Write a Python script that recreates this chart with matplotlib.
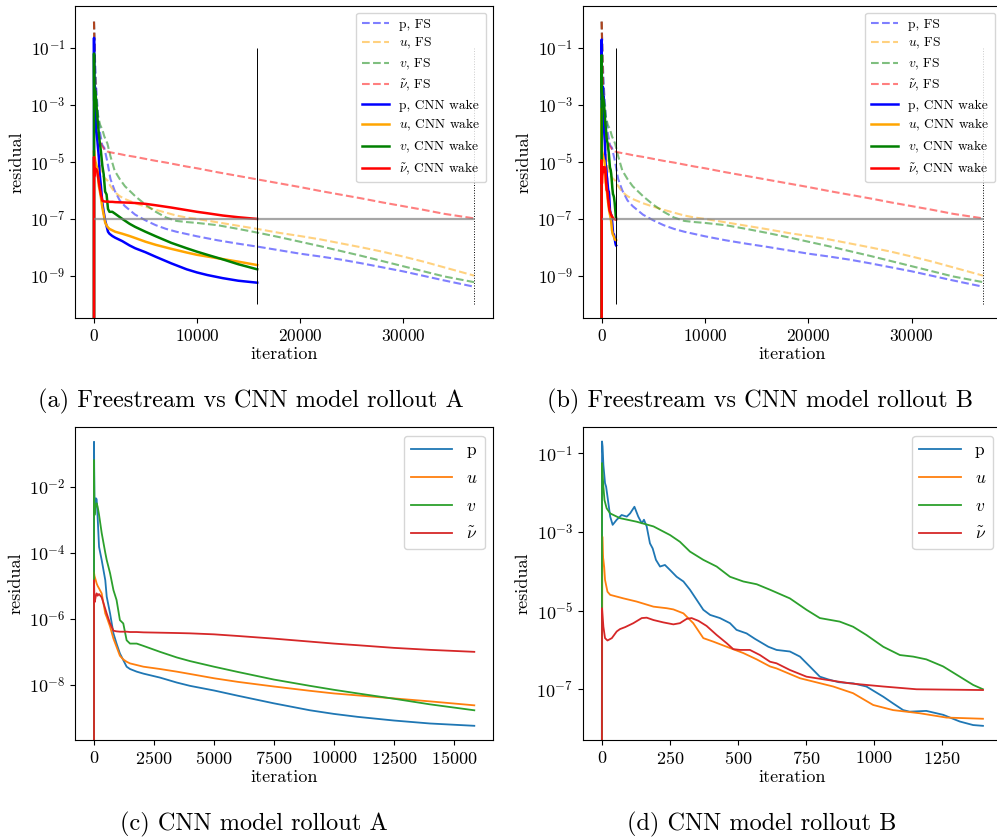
import numpy as np
import matplotlib
matplotlib.use("Agg")
import matplotlib.pyplot as plt
from matplotlib.ticker import FixedLocator, FuncFormatter, MultipleLocator, NullLocator

plt.rcParams['font.family'] = 'serif'
plt.rcParams['font.serif'] = ['cmr10']
plt.rcParams['mathtext.fontset'] = 'cm'
plt.rcParams['axes.formatter.use_mathtext'] = True
plt.rcParams['axes.unicode_minus'] = False

# ---------------- data (log10 of residual) ----------------
# Freestream (FS) run
fs_it = [0, 100, 200, 400, 600, 800, 1000, 1300, 1600, 2000, 2500, 3000, 4000, 5000, 6000,
         7000, 8000, 9000, 10000, 12000, 14000, 16000, 18000, 20000, 22000, 24000, 26000,
         28000, 30000, 32000, 34000, 36900]
fs_p = [-0.07, -1.4, -2.3, -3.4, -4.0, -4.4, -4.5, -5.0, -5.6, -6.0, -6.35, -6.55, -6.85, -7.05,
        -7.22, -7.35, -7.45, -7.53, -7.61, -7.75, -7.87, -7.98, -8.1, -8.22, -8.32, -8.43,
        -8.56, -8.7, -8.84, -9.0, -9.16, -9.38]
fs_u = [-0.07, -2.0, -3.3, -4.6, -5.2, -5.45, -5.55, -5.65, -5.85, -6.05, -6.2, -6.3, -6.45,
        -6.57, -6.68, -6.78, -6.88, -6.95, -7.0, -7.12, -7.24, -7.36, -7.49, -7.6, -7.72,
        -7.86, -8.0, -8.15, -8.32, -8.5, -8.7, -8.99]
fs_v = [-0.07, -1.8, -2.7, -3.4, -3.7, -3.85, -4.1, -4.35, -4.8, -5.3, -5.6, -5.85, -6.2, -6.5,
        -6.75, -6.95, -7.07, -7.11, -7.14, -7.22, -7.35, -7.49, -7.64, -7.8, -7.96, -8.13,
        -8.3, -8.48, -8.66, -8.84, -9.02, -9.22]
fs_nu = [-0.07, -2.0, -3.0, -3.9, -4.3, -4.45, -4.55, -4.63, -4.66, -4.69, -4.72, -4.76, -4.82,
         -4.89, -4.96, -5.02, -5.09, -5.16, -5.22, -5.36, -5.49, -5.62, -5.75, -5.88, -6.02,
         -6.15, -6.28, -6.42, -6.55, -6.68, -6.82, -6.98]

# CNN model rollout A
cnnA_it = [0, 1, 20, 40, 80, 110, 150, 210, 320, 470, 530, 670, 810, 940, 1080, 1220, 1360,
           1500, 1780, 2060, 2750, 3450, 4000, 5000, 6000, 7500, 9000, 10000, 11000, 12500,
           14000, 15850]
cnnA_p = [-13, -0.64, -2.8, -2.7, -2.35, -2.38, -2.9, -3.82, -4.22, -4.83, -5.33, -5.84, -6.44,
          -6.75, -7.05, -7.25, -7.45, -7.52, -7.6, -7.66, -7.78, -7.93, -8.03, -8.17, -8.33,
          -8.56, -8.77, -8.88, -8.97, -9.08, -9.17, -9.24]
cnnA_u = [-13, -4.6, -4.7, -4.75, -4.85, -4.93, -5.0, -5.08, -5.23, -5.84, -5.95, -6.24, -6.6,
          -6.85, -7.12, -7.23, -7.3, -7.35, -7.4, -7.45, -7.52, -7.6, -7.67, -7.8, -7.91,
          -8.05, -8.18, -8.26, -8.32, -8.41, -8.5, -8.62]
cnnA_v = [-13, -1.19, -2.86, -2.7, -2.55, -2.5, -2.6, -2.85, -3.4, -4.0, -4.22, -4.62, -5.13,
          -5.43, -6.04, -6.14, -6.65, -6.75, -6.75, -6.82, -7.0, -7.17, -7.28, -7.45, -7.61,
          -7.84, -8.03, -8.15, -8.26, -8.42, -8.59, -8.77]
cnnA_nu = [-13, -4.83, -5.5, -5.45, -5.3, -5.23, -5.3, -5.25, -5.35, -5.7, -5.84, -6.14, -6.36,
           -6.38, -6.39, -6.39, -6.39, -6.4, -6.4, -6.41, -6.42, -6.43, -6.44, -6.47, -6.52,
           -6.6, -6.69, -6.75, -6.8, -6.88, -6.94, -7.0]

# CNN model rollout B
cnnB_p_it = [0, 1, 3, 6, 12, 16, 21, 31, 40, 55, 73, 92, 104, 120, 134, 147, 155, 165, 177,
             187, 199, 214, 232, 251, 275, 300, 324, 349, 373, 398, 434, 471, 495, 532, 563,
             612, 642, 691, 728, 764, 801, 832, 870, 923, 972, 1034, 1070, 1107, 1131, 1192,
             1254, 1315, 1364, 1400]
cnnB_p = [-13, -0.7, -0.83, -1.3, -1.76, -1.85, -2.1, -2.61, -2.82, -2.69, -2.57, -2.61, -2.53,
          -2.36, -2.61, -2.78, -2.69, -2.86, -3.29, -3.42, -3.71, -3.88, -3.84, -3.97, -4.14,
          -4.26, -4.47, -4.73, -4.98, -5.11, -5.19, -5.32, -5.49, -5.58, -5.72, -5.92, -6.0,
          -6.04, -6.17, -6.42, -6.68, -6.75, -6.82, -6.85, -6.93, -7.19, -7.36, -7.53, -7.57,
          -7.55, -7.65, -7.82, -7.91, -7.93]
cnnB_u_it = [0, 2, 4, 6, 9, 12, 21, 31, 80, 128, 190, 239, 263, 300, 336, 373, 410, 459, 520,
             569, 618, 642, 728, 850, 923, 997, 1070, 1168, 1266, 1400]
cnnB_u = [-13, -3.12, -3.6, -3.71, -3.9, -4.22, -4.52, -4.6, -4.69, -4.77, -4.9, -4.94, -4.97,
          -5.07, -5.32, -5.7, -5.79, -5.92, -6.08, -6.24, -6.42, -6.47, -6.72, -6.93, -7.1,
          -7.4, -7.53, -7.61, -7.72, -7.75]
cnnB_v_it = [0, 1, 3, 6, 10, 18, 31, 67, 128, 190, 251, 287, 324, 373, 422, 471, 520, 569, 618,
             691, 752, 801, 874, 923, 972, 1034, 1095, 1144, 1192, 1254, 1315, 1364, 1400]
cnnB_v = [-13, -1.25, -1.5, -1.85, -2.19, -2.4, -2.53, -2.65, -2.74, -2.86, -3.08, -3.25, -3.5,
          -3.71, -3.88, -4.14, -4.26, -4.33, -4.47, -4.69, -4.98, -5.19, -5.28, -5.41, -5.62,
          -5.92, -6.13, -6.17, -6.24, -6.42, -6.68, -6.89, -7.0]
cnnB_nu_it = [0, 1, 6, 12, 21, 37, 55, 67, 86, 116, 147, 165, 190, 226, 263, 287, 312, 330, 355,
              385, 422, 459, 483, 508, 544, 581, 618, 642, 691, 752, 826, 911, 1034, 1156, 1400]
cnnB_nu = [-13, -4.94, -5.41, -5.7, -5.76, -5.7, -5.53, -5.47, -5.42, -5.32, -5.19, -5.18,
           -5.24, -5.3, -5.35, -5.32, -5.21, -5.19, -5.26, -5.39, -5.62, -5.83, -5.98, -6.0,
           -6.0, -6.13, -6.3, -6.34, -6.51, -6.68, -6.76, -6.85, -6.93, -7.0, -7.02]

conv_threshold = 1e-7
marker_range = (1e-10, 1e-1)

var_math = ['p', '$u$', '$v$', r'$\tilde{\nu}$']
top_colors = ['blue', 'orange', 'green', 'red']

captions = ['(a) Freestream vs CNN model rollout A', '(b) Freestream vs CNN model rollout B',
            '(c) CNN model rollout A', '(d) CNN model rollout B']

W, H = 997, 838
fig = plt.figure(figsize=(W / 100, H / 100), dpi=100)


def rect(l, t, r, b):
    return [l / W, 1 - b / H, (r - l) / W, (b - t) / H]


ax_a = fig.add_axes(rect(75, 6, 493, 318))
ax_b = fig.add_axes(rect(582.6, 6, 1002, 318))
ax_c = fig.add_axes(rect(75, 427.3, 493.3, 740))
ax_d = fig.add_axes(rect(582.7, 427.3, 1002, 740))

pow10 = lambda a: 10.0 ** np.asarray(a, dtype=float)
fmt = FuncFormatter(lambda v, p: r'$10^{%d}$' % int(round(np.log10(v))))


def top_panel(ax, c_it, c_series):
    fs_series = [fs_p, fs_u, fs_v, fs_nu]
    for s, col, lab in zip(fs_series, top_colors, var_math):
        ax.plot(fs_it, pow10(s), '--', color=col, alpha=0.5, lw=1.5, label=lab + ', FS')
    for (it, s), col, lab in zip(c_series, top_colors, var_math):
        ax.plot(it, pow10(s), '-', color=col, lw=1.8, label=lab + ', CNN wake')
    ax.set_yscale('log')
    ax.hlines(conv_threshold, fs_it[0], fs_it[-1], color='gray', lw=1.6, alpha=0.7)
    ax.vlines(c_it, marker_range[0], marker_range[1], color='k', lw=0.7)
    ax.vlines(fs_it[-1], marker_range[0], marker_range[1], color='k', lw=0.7, linestyles=':')
    ax.set_xlim(-1845, 38745)
    ax.set_ylim(10 ** -10.48, 10 ** 0.48)
    ax.xaxis.set_major_locator(MultipleLocator(10000))
    ax.yaxis.set_major_locator(FixedLocator([1e-1, 1e-3, 1e-5, 1e-7, 1e-9]))
    ax.yaxis.set_major_formatter(fmt)
    ax.yaxis.set_minor_locator(NullLocator())
    ax.tick_params(labelsize=12.5)
    ax.set_xlabel('iteration', fontsize=13, labelpad=2)
    ax.set_ylabel('residual', fontsize=13, labelpad=4)
    ax.legend(loc='upper right', fontsize=9.7, handlelength=2.0, labelspacing=0.42,
              borderpad=0.4, handletextpad=0.8)


top_panel(ax_a, cnnA_it[-1], [(cnnA_it, cnnA_p), (cnnA_it, cnnA_u), (cnnA_it, cnnA_v),
                              (cnnA_it, cnnA_nu)])
top_panel(ax_b, cnnB_p_it[-1], [(cnnB_p_it, cnnB_p), (cnnB_u_it, cnnB_u), (cnnB_v_it, cnnB_v),
                                (cnnB_nu_it, cnnB_nu)])


def bottom_panel(ax, series, xlim, ylim, yt, xstep):
    for (it, s), lab in zip(series, var_math):
        ax.plot(it, pow10(s), lw=1.3, label=lab)
    ax.set_yscale('log')
    ax.set_xlim(*xlim)
    ax.set_ylim(*ylim)
    ax.xaxis.set_major_locator(MultipleLocator(xstep))
    ax.yaxis.set_major_locator(FixedLocator(yt))
    ax.yaxis.set_major_formatter(fmt)
    ax.yaxis.set_minor_locator(NullLocator())
    ax.tick_params(labelsize=13)
    ax.set_xlabel('iteration', fontsize=13, labelpad=2)
    ax.set_ylabel('residual', fontsize=13, labelpad=4)
    ax.legend(loc='upper right', fontsize=12.5, handlelength=2.4, labelspacing=0.72)


bottom_panel(ax_c, [(cnnA_it, cnnA_p), (cnnA_it, cnnA_u), (cnnA_it, cnnA_v), (cnnA_it, cnnA_nu)],
             (-792, 16642), (10 ** -9.67, 10 ** -0.2), [1e-2, 1e-4, 1e-6, 1e-8], 2500)
bottom_panel(ax_d, [(cnnB_p_it, cnnB_p), (cnnB_u_it, cnnB_u), (cnnB_v_it, cnnB_v),
                    (cnnB_nu_it, cnnB_nu)],
             (-70, 1470), (10 ** -8.29, 10 ** -0.34), [1e-1, 1e-3, 1e-5, 1e-7], 250)

cap_pos = [(251, 401), (760, 401), (254, 824), (762, 824)]
for (x, y), t in zip(cap_pos, captions):
    fig.text(x / W, 1 - y / H, t, ha='center', va='center', fontsize=17.5)

fig.savefig('out.png', dpi=100)
